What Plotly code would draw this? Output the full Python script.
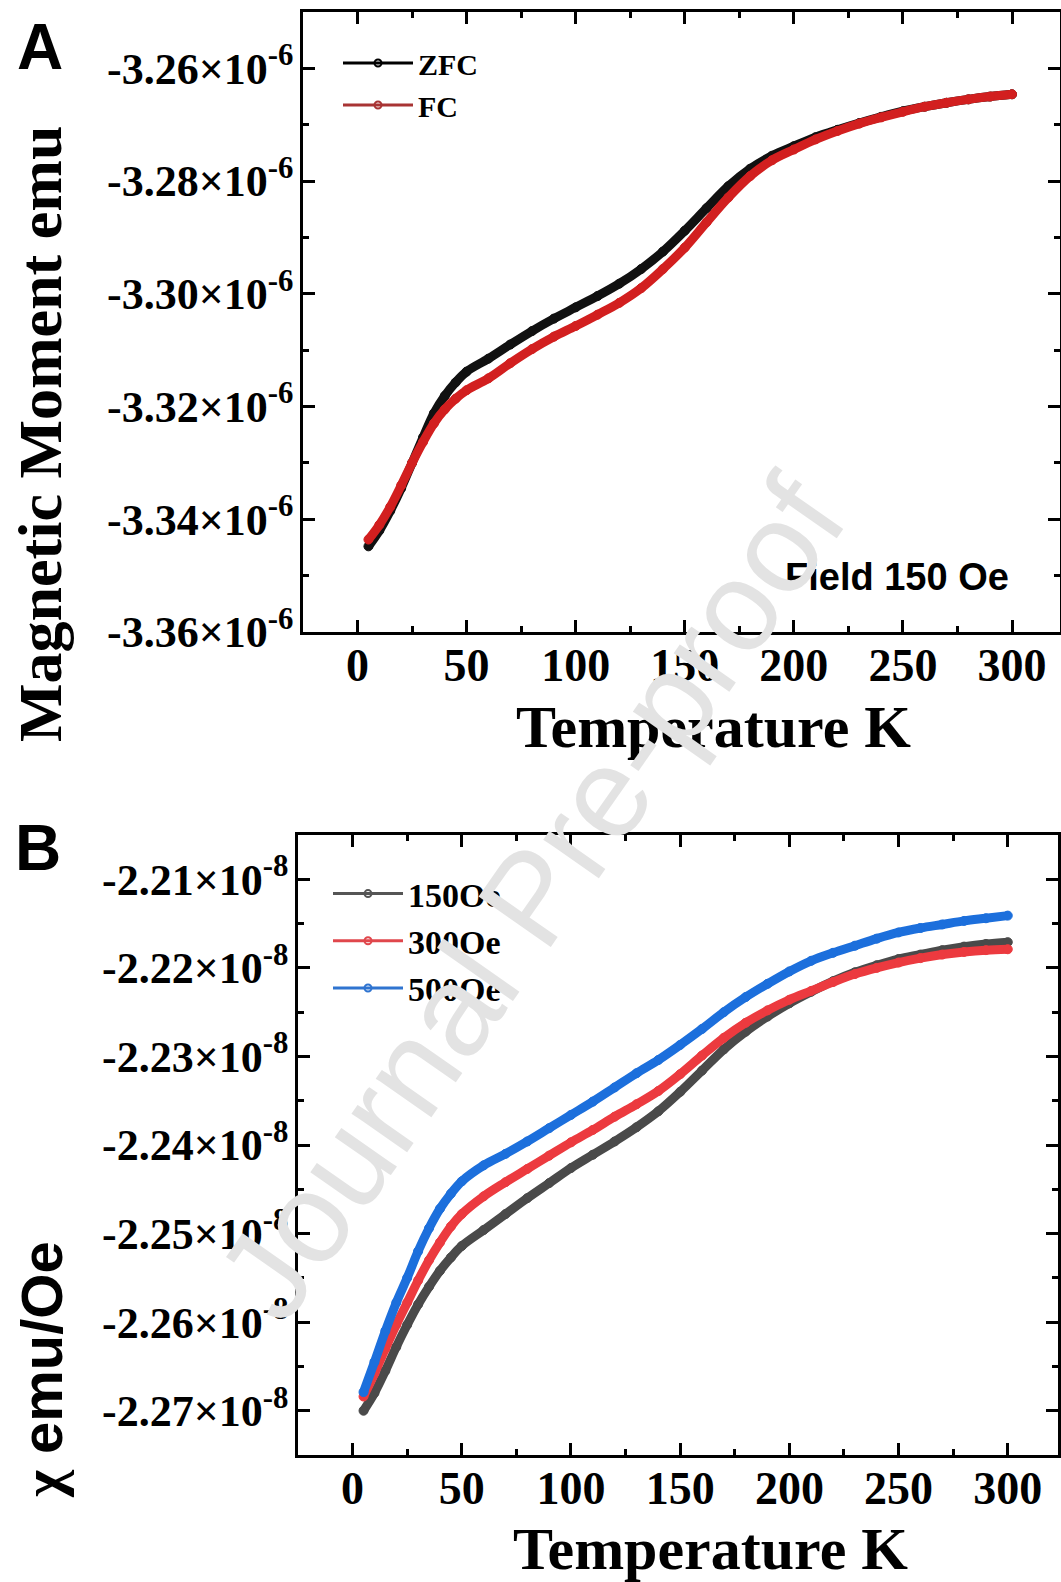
import plotly.graph_objects as go

# ---------------- data ----------------
# Panel A: magnetic moment (units of 1e-6 emu) vs temperature (K)
T_A = [5, 10, 15, 20, 25, 30, 35, 40, 45, 50, 60, 70, 80, 90, 100, 110, 120, 130,
       140, 150, 160, 170, 180, 190, 200, 210, 220, 230, 240, 250, 260, 270, 280, 290, 300]
ZFC = [-3.3448, -3.3420, -3.3385, -3.3345, -3.3300, -3.3255, -3.3212, -3.3181, -3.3157,
       -3.3138, -3.3115, -3.3090, -3.3066, -3.3044, -3.3024, -3.3004, -3.2982, -3.2956,
       -3.2925, -3.2888, -3.2848, -3.2809, -3.2778, -3.2755, -3.2738, -3.2722, -3.2709,
       -3.2697, -3.2686, -3.2676, -3.2668, -3.2661, -3.2655, -3.2650, -3.2646]
FC = [-3.3436, -3.3410, -3.3378, -3.3340, -3.3300, -3.3263, -3.3230, -3.3205, -3.3186,
      -3.3171, -3.3150, -3.3123, -3.3098, -3.3076, -3.3057, -3.3037, -3.3016, -3.2990,
      -3.2956, -3.2918, -3.2873, -3.2829, -3.2791, -3.2763, -3.2744, -3.2726, -3.2711,
      -3.2698, -3.2687, -3.2677, -3.2668, -3.2661, -3.2655, -3.2650, -3.2646]

# Panel B: susceptibility (units of 1e-8 emu/Oe) vs temperature (K)
T_B = [5, 10, 15, 20, 25, 30, 35, 40, 45, 50, 60, 70, 80, 90, 100, 110, 120, 130,
       140, 150, 160, 170, 180, 190, 200, 210, 220, 230, 240, 250, 260, 270, 280, 290, 300]
CHI_150 = [-2.2700, -2.2680, -2.2655, -2.2628, -2.2603, -2.2580, -2.2560, -2.2542, -2.2527,
           -2.2514, -2.2496, -2.2478, -2.2460, -2.2443, -2.2426, -2.2411, -2.2396, -2.2380,
           -2.2362, -2.2340, -2.2316, -2.2292, -2.2272, -2.2255, -2.2240, -2.2227, -2.2215,
           -2.2205, -2.2197, -2.2190, -2.2185, -2.2180, -2.2176, -2.2173, -2.2171]
CHI_300 = [-2.2684, -2.2658, -2.2630, -2.2603, -2.2578, -2.2553, -2.2530, -2.2510, -2.2492,
           -2.2478, -2.2458, -2.2442, -2.2427, -2.2412, -2.2397, -2.2383, -2.2368, -2.2354,
           -2.2339, -2.2320, -2.2299, -2.2279, -2.2262, -2.2248, -2.2236, -2.2226, -2.2216,
           -2.2207, -2.2200, -2.2194, -2.2189, -2.2185, -2.2182, -2.2180, -2.2179]
CHI_500 = [-2.2679, -2.2645, -2.2610, -2.2578, -2.2550, -2.2520, -2.2494, -2.2472, -2.2455,
           -2.2441, -2.2423, -2.2410, -2.2396, -2.2381, -2.2366, -2.2351, -2.2335, -2.2319,
           -2.2304, -2.2287, -2.2269, -2.2250, -2.2233, -2.2218, -2.2204, -2.2192, -2.2183,
           -2.2175, -2.2167, -2.2160, -2.2155, -2.2151, -2.2147, -2.2144, -2.2141]

SCALE_A = 1e-6
SCALE_B = 1e-8

X_TICKS = [0, 50, 100, 150, 200, 250, 300]
YA_TICKS = [-3.36, -3.34, -3.32, -3.30, -3.28, -3.26]
YA_LABELS = ["-3.36×10<sup>-6</sup>", "-3.34×10<sup>-6</sup>", "-3.32×10<sup>-6</sup>",
             "-3.30×10<sup>-6</sup>", "-3.28×10<sup>-6</sup>", "-3.26×10<sup>-6</sup>"]
YB_TICKS = [-2.27, -2.26, -2.25, -2.24, -2.23, -2.22, -2.21]
YB_LABELS = ["-2.27×10<sup>-8</sup>", "-2.26×10<sup>-8</sup>", "-2.25×10<sup>-8</sup>",
             "-2.24×10<sup>-8</sup>", "-2.23×10<sup>-8</sup>", "-2.22×10<sup>-8</sup>",
             "-2.21×10<sup>-8</sup>"]

SERIES_A = [("ZFC", ZFC, "#111111", "#000000"), ("FC", FC, "#d21f1f", "#a83434")]
SERIES_B = [("150Oe", CHI_150, "#4a4a4a", "#555555"),
            ("300Oe", CHI_300, "#ec3a3f", "#e0474c"),
            ("500Oe", CHI_500, "#1c6fdc", "#2f74d0")]

# ---------------- layout helpers ----------------
W, H = 1061, 1582
def px(x):
    return x / W
def py(y):
    return 1 - y / H

SERIF = "Liberation Serif"
SANS = "Liberation Sans"

fig = go.Figure()

# Panel A traces
for name, vals, col, lcol in SERIES_A:
    fig.add_trace(go.Scatter(
        x=T_A, y=[v * SCALE_A for v in vals], mode="lines+markers",
        line=dict(color=col, width=9, shape="spline", smoothing=1.0),
        marker=dict(size=9, color=col, line=dict(width=1, color=col)),
        showlegend=False, xaxis="x", yaxis="y"))
for name, vals, col, lcol in SERIES_A:
    fig.add_trace(go.Scatter(
        x=[None], y=[None], mode="lines+markers", name=name,
        line=dict(color=lcol, width=3),
        marker=dict(symbol="circle-open", size=7, color=lcol, line=dict(width=2)),
        legend="legend", xaxis="x", yaxis="y"))

# Panel B traces
for name, vals, col, lcol in SERIES_B:
    fig.add_trace(go.Scatter(
        x=T_B, y=[v * SCALE_B for v in vals], mode="lines+markers",
        line=dict(color=col, width=9, shape="spline", smoothing=1.0),
        marker=dict(size=9, color=col, line=dict(width=1, color=col)),
        showlegend=False, xaxis="x2", yaxis="y2"))
for name, vals, col, lcol in SERIES_B:
    fig.add_trace(go.Scatter(
        x=[None], y=[None], mode="lines+markers", name=name,
        line=dict(color=lcol, width=3),
        marker=dict(symbol="circle-open", size=7, color=lcol, line=dict(width=2)),
        legend="legend2", xaxis="x2", yaxis="y2"))

common_x = dict(
    ticks="inside", ticklen=12, tickwidth=2.5, tickcolor="black",
    showline=True, linecolor="black", linewidth=2.5, mirror="ticks",
    showgrid=False, zeroline=False, tickmode="array", tickvals=X_TICKS,
    tickfont=dict(family=SERIF, size=46, color="black", weight="bold"),
    minor=dict(ticks="inside", ticklen=6, tickwidth=2.5, tickcolor="black",
               tickmode="linear", tick0=0, dtick=25),
    ticklabelstandoff=-9, automargin=False,
)
common_y = dict(
    ticks="inside", ticklen=12, tickwidth=2.5, tickcolor="black",
    showline=True, linecolor="black", linewidth=2.5, mirror="ticks",
    showgrid=False, zeroline=False, tickmode="array",
    tickfont=dict(family=SERIF, size=44, color="black", weight="bold"),
    ticklabelstandoff=-2, automargin=False,
)

fig.update_layout(
    width=W, height=H, margin=dict(l=0, r=0, t=0, b=0),
    paper_bgcolor="white", plot_bgcolor="white",
    font=dict(family=SERIF, color="black"),
    xaxis=dict(common_x, domain=[px(303), px(1060)], range=[-25, 322], anchor="y"),
    yaxis=dict(common_y, domain=[py(632), py(12)], range=[-3.36e-6, -3.25e-6],
               tickvals=[v * SCALE_A for v in YA_TICKS], ticktext=YA_LABELS, anchor="x",
               minor=dict(ticks="inside", ticklen=6, tickwidth=2.5, tickcolor="black",
                          tickmode="linear", tick0=-3.36e-6, dtick=0.01e-6)),
    xaxis2=dict(common_x, domain=[px(298), px(1058)], range=[-25, 323], anchor="y2"),
    yaxis2=dict(common_y, domain=[py(1455), py(835)], range=[-2.275e-8, -2.205e-8],
                tickvals=[v * SCALE_B for v in YB_TICKS], ticktext=YB_LABELS, anchor="x2",
                minor=dict(ticks="inside", ticklen=6, tickwidth=2.5, tickcolor="black",
                           tickmode="linear", tick0=-2.275e-8, dtick=0.005e-8)),
    legend=dict(x=px(338), y=py(37), xanchor="left", yanchor="top",
                bgcolor="rgba(0,0,0,0)", itemwidth=70, traceorder="normal",
                font=dict(family=SERIF, size=30, color="black", weight="bold")),
    legend2=dict(x=px(328), y=py(865), xanchor="left", yanchor="top",
                 bgcolor="rgba(0,0,0,0)", itemwidth=70, traceorder="normal",
                 font=dict(family=SERIF, size=34, color="black", weight="bold")),
    showlegend=True,
)

annots = [
    dict(text="A", x=px(40), y=py(47), font=dict(family=SANS, size=64, weight="bold")),
    dict(text="B", x=px(38), y=py(848), font=dict(family=SANS, size=64, weight="bold")),
    dict(text="Magnetic Moment emu", x=px(40), y=py(434), textangle=-90,
         font=dict(family=SERIF, size=62, weight="bold")),
    dict(text="<span style=\"font-family:'Liberation Serif'\">χ</span> emu/Oe",
         x=px(42), y=py(1370), textangle=-90,
         font=dict(family=SANS, size=58, weight="bold")),
    dict(text="Temperature K", x=px(713), y=py(727),
         font=dict(family=SERIF, size=60, weight="bold")),
    dict(text="Temperature K", x=px(710), y=py(1549),
         font=dict(family=SERIF, size=60, weight="bold")),
    dict(text="Field 150 Oe", x=px(897), y=py(577),
         font=dict(family=SANS, size=38, weight="bold")),
    dict(text="Journal Pre-proof", x=px(530), y=py(898), textangle=-55,
         font=dict(family=SANS, size=128, color="#e3e3e3")),
]
for a in annots:
    a.setdefault("font", {})
    a["font"].setdefault("color", "black")
    fig.add_annotation(xref="paper", yref="paper", showarrow=False,
                       xanchor="center", yanchor="middle", **a)

fig.write_html("out.html")
